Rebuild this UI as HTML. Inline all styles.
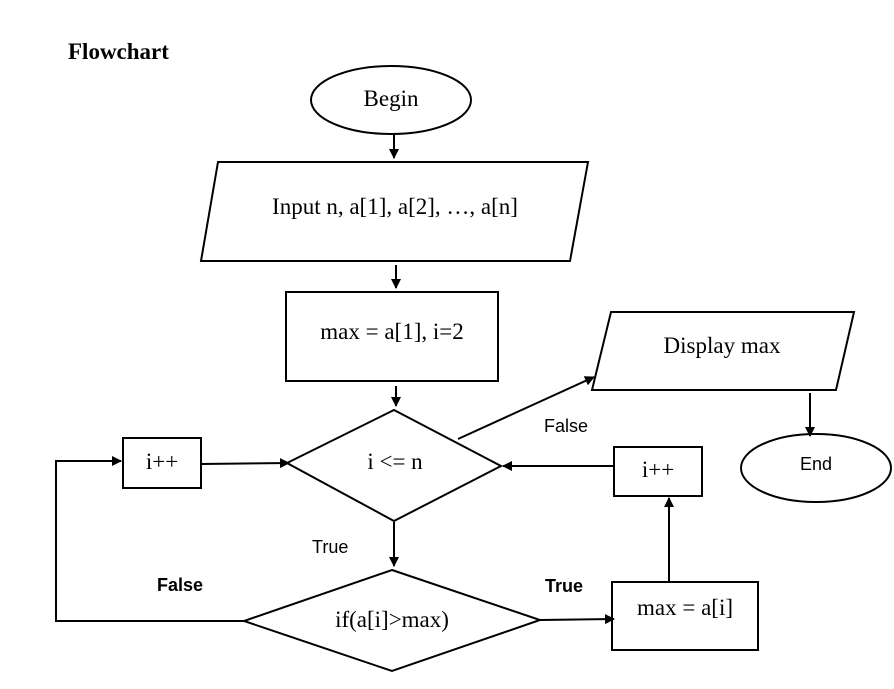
<!DOCTYPE html>
<html><head><meta charset="utf-8"><style>
html,body{margin:0;padding:0;background:#fff;width:894px;height:689px;overflow:hidden}
svg text.s{font-family:"Liberation Serif",serif;font-size:23px}
svg text.a{font-family:"Liberation Sans",sans-serif;font-size:18px}
</style></head><body>
<svg width="894" height="689" xmlns="http://www.w3.org/2000/svg">
<defs><marker id="ar" markerWidth="10" markerHeight="10" refX="9" refY="5" orient="auto" markerUnits="userSpaceOnUse"><path d="M0,0 L10,5 L0,10 z" fill="#000"/></marker></defs>
<g fill="none" stroke="#000" stroke-width="2">
<ellipse cx="391" cy="100" rx="80" ry="34"/>
<polygon points="218,162 588,162 570,261 201,261"/>
<rect x="286" y="292" width="212" height="89"/>
<polygon points="394,410 501,466 394,521 287,463"/>
<rect x="123" y="438" width="78" height="50"/>
<polygon points="392,570 540,620 392,671 244,621"/>
<rect x="612" y="582" width="146" height="68"/>
<rect x="614" y="447" width="88" height="49"/>
<polygon points="611,312 854,312 836,390 592,390"/>
<ellipse cx="816" cy="468" rx="75" ry="34"/>
<line x1="394" y1="135" x2="394" y2="158" marker-end="url(#ar)"/>
<line x1="396" y1="265" x2="396" y2="288" marker-end="url(#ar)"/>
<line x1="396" y1="386" x2="396" y2="406" marker-end="url(#ar)"/>
<line x1="201" y1="464" x2="289" y2="463" marker-end="url(#ar)"/>
<polyline points="244,621 56,621 56,461 121,461" marker-end="url(#ar)"/>
<line x1="394" y1="522" x2="394" y2="566" marker-end="url(#ar)"/>
<line x1="540" y1="620" x2="614" y2="619" marker-end="url(#ar)"/>
<line x1="669" y1="582" x2="669" y2="498" marker-end="url(#ar)"/>
<line x1="614" y1="466" x2="503" y2="466" marker-end="url(#ar)"/>
<line x1="458" y1="439" x2="594" y2="377" marker-end="url(#ar)"/>
<line x1="810" y1="393" x2="810" y2="436" marker-end="url(#ar)"/>
</g>
<text x="68" y="59" class="s" style="font-weight:bold">Flowchart</text>
<text x="391" y="106" class="s" text-anchor="middle">Begin</text>
<text x="395" y="214" class="s" text-anchor="middle">Input n, a[1], a[2], …, a[n]</text>
<text x="392" y="339" class="s" text-anchor="middle">max = a[1], i=2</text>
<text x="395" y="469" class="s" text-anchor="middle">i &lt;= n</text>
<text x="162" y="469" class="s" text-anchor="middle">i++</text>
<text x="658" y="477" class="s" text-anchor="middle">i++</text>
<text x="392" y="627" class="s" text-anchor="middle">if(a[i]&gt;max)</text>
<text x="685" y="615" class="s" text-anchor="middle">max = a[i]</text>
<text x="722" y="353" class="s" text-anchor="middle">Display max</text>
<text x="816" y="470" class="a" text-anchor="middle">End</text>
<text x="544" y="432" class="a">False</text>
<text x="312" y="553" class="a">True</text>
<text x="157" y="591" class="a" style="font-weight:bold">False</text>
<text x="545" y="592" class="a" style="font-weight:bold">True</text>
</svg>
</body></html>
